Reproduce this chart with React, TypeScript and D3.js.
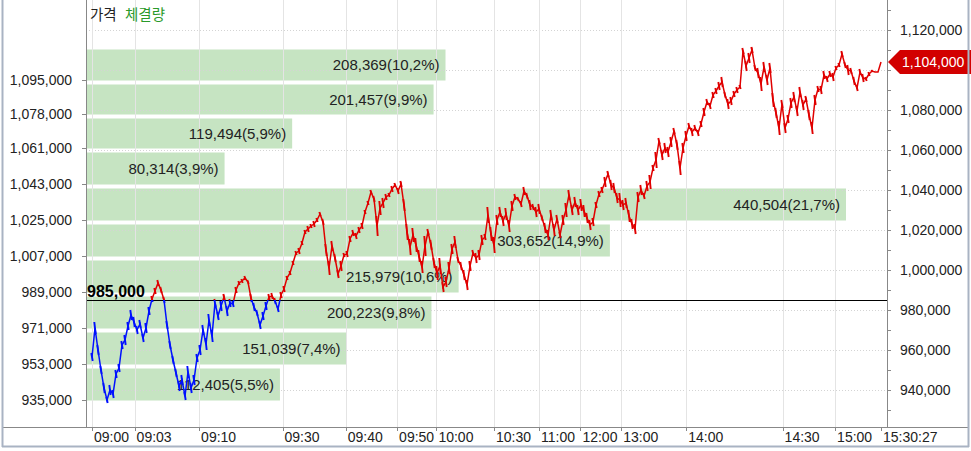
import React from 'react';
import * as d3 from 'd3';

const W = 971;
const H = 451;
const PLOT_L = 86;
const PLOT_R = 887;
const AXIS_Y = 427;

// Tick-by-tick price (thousands of won), equal tick spacing
const priceK: number[] = [
  956.5, 971, 960, 950, 941, 935, 940, 938, 948, 951,
  962.5, 965, 972, 977.5, 974, 970, 973, 966, 971, 979.5,
  985.5, 989.5, 993.5, 990, 985, 972.5, 962.5, 955, 948.5, 942,
  945, 937, 949, 941, 945, 956, 960, 970, 963, 975,
  967, 983.5, 977, 982, 986.5, 979.5, 983.5, 983, 990, 993.5,
  994.5, 996, 994, 986, 981.5, 978.5, 972.5, 977, 982, 986.5,
  987, 984.5, 980.5, 987.5, 990.5, 996, 998.5, 1003.5, 1008.5, 1009.5,
  1013.5, 1019, 1020.5, 1022, 1023, 1025, 1028, 1024, 1010, 1001,
  1012, 1006, 998, 1002, 1007.5, 1008, 1015.5, 1018.5, 1017, 1020,
  1022, 1029, 1033.5, 1039, 1035.5, 1022, 1031, 1033.5, 1036.5, 1037.5,
  1040.5, 1042.5, 1039.5, 1043, 1032.5, 1019, 1011.5, 1017.5, 1012.5, 1007,
  1001.5, 1012, 1019, 1012.5, 1003.5, 998.5, 1002, 991.5, 994, 1001,
  1010.5, 1014, 1005, 1002, 997.5, 992.5, 1002, 1008.5, 1006, 1007.5,
  1015, 1016.5, 1027.5, 1018, 1012.5, 1025, 1029, 1024.5, 1028, 1022,
  1032, 1036.5, 1035.5, 1033, 1039.5, 1037, 1032.5, 1031.5, 1029, 1030.5,
  1026, 1021, 1017.5, 1027.5, 1020, 1025.5, 1017.5, 1025, 1030, 1037.5,
  1030, 1034, 1030, 1032.5, 1029.5, 1026, 1022.5, 1024, 1032.5, 1038,
  1040, 1044, 1048, 1042.5, 1041, 1036, 1035, 1032.5, 1033.5, 1027,
  1023, 1020.5, 1036.5, 1040, 1037, 1042, 1044, 1051, 1055, 1064.5,
  1057.5, 1061, 1059, 1064, 1069.5, 1062.5, 1051, 1061, 1067, 1072,
  1069, 1071, 1068.5, 1073, 1079, 1084, 1082, 1087.5, 1089.5, 1092,
  1094, 1087.5, 1083, 1084.5, 1088, 1090, 1091.5, 1109.5, 1102, 1106,
  1110, 1101, 1098.5, 1093, 1101.5, 1095, 1101, 1085, 1078.5, 1071,
  1083, 1071, 1075.5, 1083.5, 1086.5, 1079.5, 1089, 1082.5, 1085.5, 1077.5,
  1071, 1085, 1090.5, 1090, 1097.5, 1095.5, 1098, 1096.5, 1101, 1102.5,
  1108, 1102.5, 1100, 1099.5, 1094.5, 1091, 1099, 1096, 1095.5, 1098,
  1099.5, 1099, 1099, 1104,
];

// Observed high-low spread of ticks around each sample (thousands of won)
const spreadK: number[] = [
  4, 6, 5, 4, 5, 3, 5, 4, 4, 4,
  4, 5, 4, 5, 5, 4, 4, 4, 5, 4,
  3, 3, 3, 3, 3, 4, 4, 4, 4, 5,
  5, 4, 6, 5, 5, 4, 5, 5, 6, 6,
  6, 4, 4, 5, 3, 5, 4, 3, 3, 2,
  2, 2, 2, 4, 4, 3, 4, 4, 4, 3,
  3, 3, 3, 3, 3, 2, 2, 2, 2, 3,
  2, 2, 3, 2, 3, 2, 2, 3, 6, 7,
  5, 4, 4, 5, 2, 3, 3, 3, 3, 3,
  3, 2, 2, 2, 3, 10, 7, 5, 3, 2,
  3, 2, 3, 3, 6, 8, 8, 7, 7, 6,
  6, 10, 3, 5, 5, 7, 8, 5, 5, 6,
  5, 6, 3, 4, 5, 5, 5, 3, 5, 5,
  5, 3, 8, 7, 8, 5, 5, 5, 6, 6,
  5, 3, 2, 3, 4, 3, 5, 3, 5, 5,
  3, 5, 5, 5, 6, 4, 3, 5, 7, 5,
  5, 5, 5, 6, 6, 5, 5, 4, 3, 3,
  3, 5, 3, 5, 5, 5, 7, 5, 5, 6,
  5, 5, 5, 5, 3, 5, 7, 3, 8, 3,
  5, 5, 5, 5, 3, 5, 7, 5, 5, 3,
  4, 3, 3, 3, 4, 3, 3, 3, 3, 4,
  5, 3, 5, 4, 3, 3, 2, 3, 5, 5,
  3, 3, 5, 7, 5, 5, 5, 7, 5, 7,
  4, 5, 4, 5, 5, 5, 5, 5, 3, 5,
  6, 5, 3, 4, 4, 3, 3, 4, 2, 2,
  3, 3, 5, 3, 4, 3, 3, 4, 2, 2,
  1, 0, 0, 0,
];

const prevClose = 985000;
const lastPrice = 1104000;

const timeLabels = ['09:00', '09:03', '09:10', '09:30', '09:40', '09:50', '10:00', '10:30', '11:00', '12:00', '13:00', '14:00', '14:30', '15:00', '15:30:27'];
const timeIdx = [0, 14.2, 35.7, 63.5, 84.6, 101.7, 114.8, 134, 149, 162.8, 176.4, 198.1, 230.2, 247.7, 263];

// Volume profile bins (lower edges, ascending) and volume per bin
const binEdges = [935000, 953000, 971000, 989000, 1007000, 1025000, 1043000, 1061000, 1078000, 1095000];
const binTop = 1112500;
const binVolumes = [112405, 151039, 200223, 215979, 303652, 440504, 80314, 119494, 201457, 208369];

const rightMajor = d3.range(940000, 1120001, 20000);
const rightMinor = d3.range(930000, 1130001, 10000);

const NUM_FONT = "'Liberation Sans', Arial, sans-serif";
const KR_FONT = "'Noto Sans CJK KR', sans-serif";

export default function App() {
  const prices = priceK.map((v) => v * 1000);
  const spreads = spreadK.map((v) => v * 1000);
  const x = d3.scaleLinear().domain([0, prices.length - 1]).range([92, 881]);
  const y = d3.scaleLinear().domain([940000, 1120000]).range([390, 30]);
  const totalVol = d3.sum(binVolumes);
  const maxVol = d3.max(binVolumes) as number;
  const xv = d3.scaleLinear().domain([0, maxVol / 0.95]).range([PLOT_L, PLOT_R - 1]);
  const fmt = d3.format(',');

  const line = d3
    .line<number>()
    .x((_, i) => x(i))
    .y((d) => y(d));
  const pathD = line(prices) || '';
  // tick spread drawn as short vertical strokes around each sample
  const spreadD = prices
    .map((p, i) => {
      const s = spreads[i];
      if (!s) return '';
      const xi = x(i);
      return `M${xi - 0.7},${y(p + s / 2)}L${xi + 0.7},${y(p - s / 2)}`;
    })
    .join('');
  const yPrev = y(prevClose);
  const yLast = y(lastPrice);

  const tops = binEdges.map((e, i) => (i < binEdges.length - 1 ? binEdges[i + 1] : binTop));

  return (
    <svg
      width={W}
      height={H}
      style={{ position: 'absolute', left: 0, top: 0, background: '#fff' }}
    >
      <defs>
        <clipPath id="above">
          <rect x={PLOT_L} y={0} width={PLOT_R - PLOT_L} height={yPrev} />
        </clipPath>
        <clipPath id="below">
          <rect x={PLOT_L} y={yPrev} width={PLOT_R - PLOT_L} height={AXIS_Y - yPrev} />
        </clipPath>
      </defs>

      {/* volume profile bars */}
      {binVolumes.map((v, i) => {
        const yTop = y(tops[i]) + 4.5;
        const yBot = y(binEdges[i]) + 0.5;
        return (
          <rect
            key={'b' + i}
            x={PLOT_L}
            y={yTop}
            width={xv(v) - PLOT_L}
            height={yBot - yTop}
            fill="#c6e4c2"
          />
        );
      })}

      {/* grid */}
      {rightMajor.map((t) => (
        <line
          key={'hg' + t}
          x1={PLOT_L}
          x2={PLOT_R}
          y1={y(t) + 0.5}
          y2={y(t) + 0.5}
          stroke="#d4d4d4"
          strokeDasharray="1,2"
        />
      ))}
      {timeIdx.slice(0, -1).map((t, i) => (
        <line
          key={'vg' + i}
          x1={Math.round(x(t)) + 0.5}
          x2={Math.round(x(t)) + 0.5}
          y1={0}
          y2={AXIS_Y}
          stroke="#e4e4e4"
        />
      ))}

      {/* bar labels */}
      {binVolumes.map((v, i) => {
        const yTop = y(tops[i]) + 4.5;
        const yBot = y(binEdges[i]) + 0.5;
        const pct = ((v / totalVol) * 100).toFixed(1).replace('.', ',');
        return (
          <text
            key={'bl' + i}
            x={xv(v) - 6}
            y={(yTop + yBot) / 2}
            dy="0.36em"
            textAnchor="end"
            fontFamily={NUM_FONT}
            fontSize={15}
            fill="#222"
          >
            {`${fmt(v)}(${pct}%)`}
          </text>
        );
      })}

      {/* previous close line */}
      <line x1={PLOT_L} x2={PLOT_R} y1={yPrev + 0.5} y2={yPrev + 0.5} stroke="#000" strokeWidth={1} />

      {/* price line */}
      <g clipPath="url(#above)" stroke="#e00000" fill="none">
        <path d={pathD} strokeWidth={1.5} />
        <path d={spreadD} strokeWidth={1.9} />
      </g>
      <g clipPath="url(#below)" stroke="#0010ff" fill="none">
        <path d={pathD} strokeWidth={1.5} />
        <path d={spreadD} strokeWidth={1.9} />
      </g>

      <text x={87} y={yPrev - 3} fontFamily={NUM_FONT} fontWeight="bold" fontSize={16} fill="#000">
        {fmt(prevClose)}
      </text>

      {/* legend */}
      <text x={90} y={20} fontFamily={KR_FONT} fontSize={14.5} fill="#222">
        가격
      </text>
      <text x={125} y={20} fontFamily={KR_FONT} fontSize={14.5} fill="#2a9a2a">
        체결량
      </text>

      {/* left axis */}
      <line x1={PLOT_L + 0.5} x2={PLOT_L + 0.5} y1={0} y2={AXIS_Y} stroke="#888" />
      {binEdges.map((e) => (
        <g key={'lt' + e}>
          <line x1={82} x2={PLOT_L} y1={y(e) + 0.5} y2={y(e) + 0.5} stroke="#888" />
          <text
            x={72}
            y={y(e)}
            dy="0.36em"
            textAnchor="end"
            fontFamily={NUM_FONT}
            fontSize={14}
            fill="#222"
          >
            {fmt(e)}
          </text>
        </g>
      ))}

      {/* right axis */}
      <line x1={PLOT_R + 0.5} x2={PLOT_R + 0.5} y1={0} y2={AXIS_Y} stroke="#888" />
      {rightMinor.map((t) => (
        <line key={'rt' + t} x1={PLOT_R} x2={PLOT_R + 4} y1={y(t) + 0.5} y2={y(t) + 0.5} stroke="#888" />
      ))}
      {rightMajor
        .filter((t) => Math.abs(y(t) - yLast) > 14)
        .map((t) => (
          <text
            key={'rl' + t}
            x={900}
            y={y(t)}
            dy="0.36em"
            fontFamily={NUM_FONT}
            fontSize={14}
            fill="#222"
          >
            {fmt(t)}
          </text>
        ))}

      {/* last price tag */}
      <path
        d={`M${PLOT_R + 1},${yLast} L${PLOT_R + 13},${yLast - 12} L${W},${yLast - 12} L${W},${yLast + 12} L${PLOT_R + 13},${yLast + 12} Z`}
        fill="#d20000"
      />
      <text x={902} y={yLast} dy="0.36em" fontFamily={NUM_FONT} fontSize={14} fill="#fff">
        {fmt(lastPrice)}
      </text>

      {/* bottom axis */}
      <line x1={3} x2={969} y1={AXIS_Y + 0.5} y2={AXIS_Y + 0.5} stroke="#888" />
      {timeIdx.map((t, i) => (
        <g key={'tt' + i}>
          <line
            x1={Math.round(x(t)) + 0.5}
            x2={Math.round(x(t)) + 0.5}
            y1={AXIS_Y}
            y2={AXIS_Y + 4}
            stroke="#888"
          />
          <text
            x={x(t) + 2}
            y={437}
            dy="0.36em"
            fontFamily={NUM_FONT}
            fontSize={14}
            fill="#222"
          >
            {timeLabels[i]}
          </text>
        </g>
      ))}

      {/* outer frame */}
      <line x1={2.5} x2={2.5} y1={0} y2={447} stroke="#a9b3c3" strokeWidth={2} />
      <line x1={968.5} x2={968.5} y1={0} y2={447} stroke="#a9b3c3" strokeWidth={2} />
      <line x1={2} x2={969} y1={446.5} y2={446.5} stroke="#a9b3c3" strokeWidth={2} />
    </svg>
  );
}
